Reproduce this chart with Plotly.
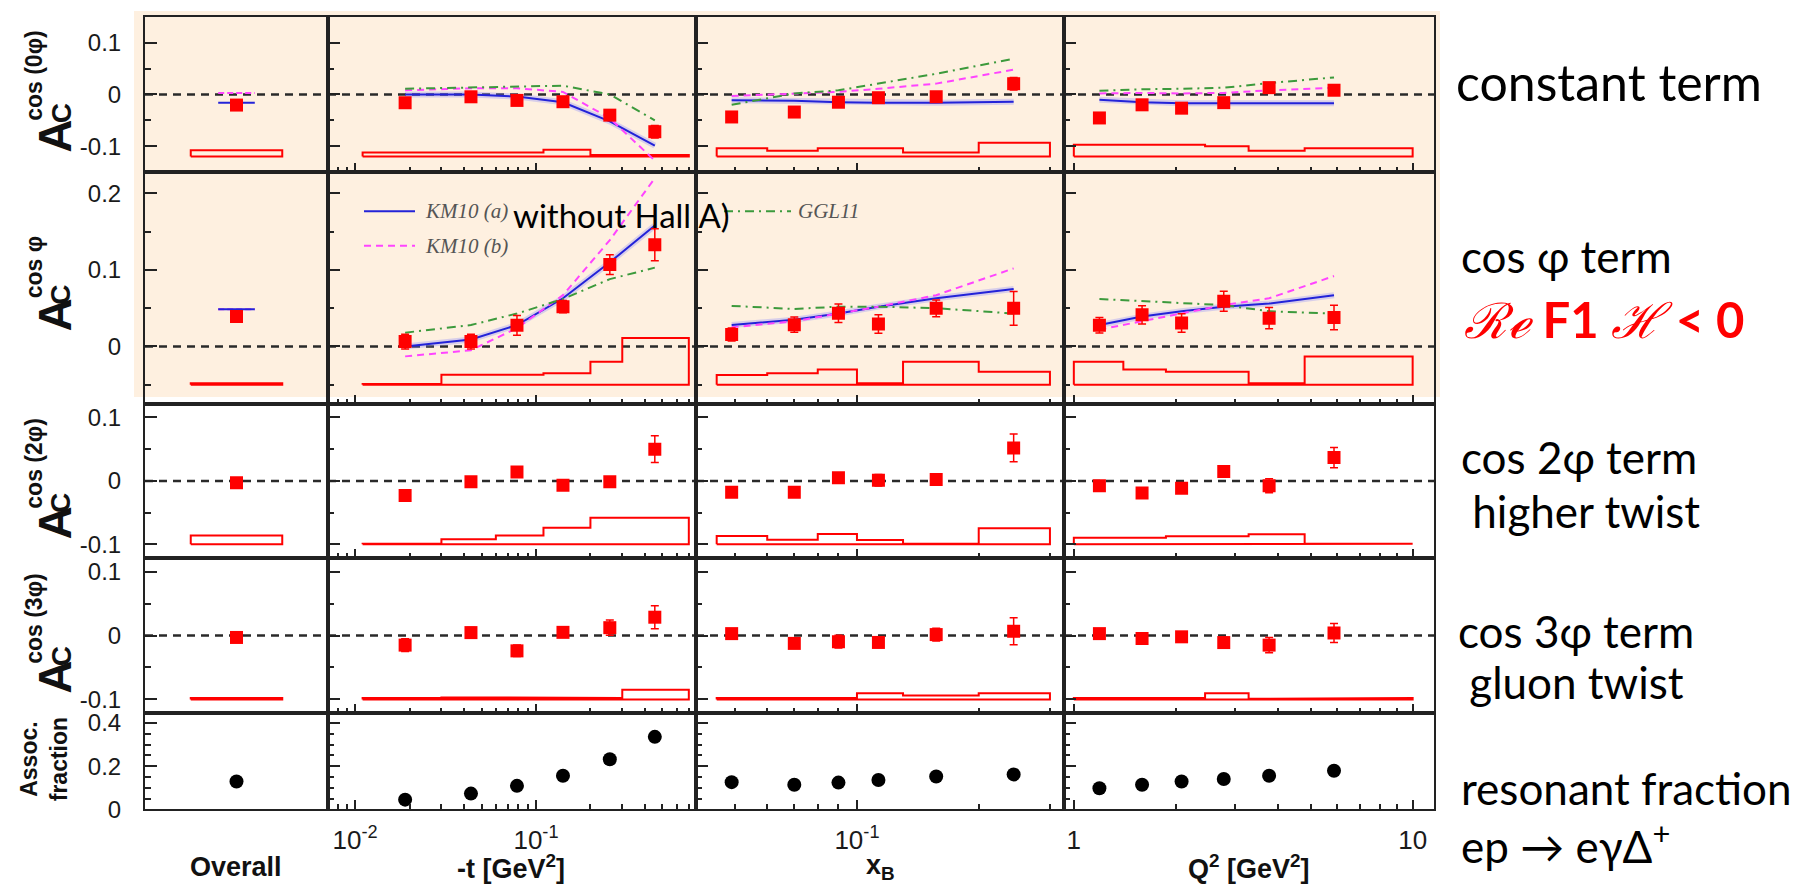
import math
import plotly.graph_objects as go

# ---------------- data ----------------
t_bins = [0.0189, 0.0437, 0.0785, 0.141, 0.256, 0.454]
xb_bins = [0.049, 0.070, 0.090, 0.113, 0.157, 0.244]
q2_bins = [1.19, 1.59, 2.08, 2.77, 3.77, 5.86]

t_edges = [0.011, 0.03, 0.06, 0.11, 0.2, 0.3, 0.7]
xb_edges = [0.045, 0.06, 0.08, 0.1, 0.13, 0.2, 0.3]
q2_edges = [1.0, 1.4, 1.87, 2.44, 3.28, 4.8, 10.0]

# cos(0phi) amplitude
c0_overall = [-0.0205]; c0_overall_err = [0.004]; c0_overall_sys = [0.012]
c0_overall_km10a = -0.016; c0_overall_km10b = 0.003
c0_t = [-0.016, -0.0045, -0.0115, -0.014, -0.040, -0.072]
c0_t_err = [0.007, 0.006, 0.007, 0.007, 0.008, 0.012]
c0_t_sys = [0.008, 0.008, 0.008, 0.013, 0.003, 0.003]
c0_t_km10a = [0.0, 0.0, -0.004, -0.015, -0.052, -0.099]
c0_t_km10b = [0.008, 0.012, 0.012, 0.005, -0.046, -0.128]
c0_t_ggl11 = [0.011, 0.014, 0.016, 0.017, 0.0, -0.05]
c0_xb = [-0.0435, -0.034, -0.015, -0.0063, -0.0044, 0.0208]
c0_xb_err = [0.007, 0.007, 0.007, 0.007, 0.007, 0.012]
c0_xb_sys = [0.016, 0.011, 0.016, 0.016, 0.0076, 0.0265]
c0_xb_km10a = [-0.011, -0.012, -0.015, -0.016, -0.016, -0.014]
c0_xb_km10b = [-0.003, 0.002, 0.005, 0.011, 0.021, 0.048]
c0_xb_ggl11 = [-0.02, 0.002, 0.008, 0.021, 0.04, 0.069]
c0_q2 = [-0.0454, -0.020, -0.0265, -0.0158, 0.0132, 0.0082]
c0_q2_err = [0.007, 0.007, 0.007, 0.007, 0.007, 0.009]
c0_q2_sys = [0.023, 0.023, 0.023, 0.020, 0.011, 0.016]
c0_q2_km10a = [-0.010, -0.015, -0.017, -0.017, -0.017, -0.017]
c0_q2_km10b = [0.002, 0.003, 0.002, 0.003, 0.008, 0.013]
c0_q2_ggl11 = [0.007, 0.010, 0.011, 0.013, 0.022, 0.033]

# cos(phi) amplitude
c1_overall = [0.039]; c1_overall_err = [0.004]; c1_overall_sys = [0.002]
c1_overall_km10a = 0.0485; c1_overall_km10b = 0.0485
c1_t = [0.0064, 0.0064, 0.0276, 0.052, 0.107, 0.133]
c1_t_err = [0.0096, 0.0096, 0.013, 0.008, 0.013, 0.021]
c1_t_sys = [0.001, 0.013, 0.013, 0.015, 0.030, 0.061]
c1_t_km10a = [0.0, 0.009, 0.028, 0.063, 0.110, 0.158]
c1_t_km10b = [-0.013, -0.005, 0.024, 0.067, 0.139, 0.220]
c1_t_ggl11 = [0.018, 0.028, 0.043, 0.062, 0.088, 0.103]
c1_xb = [0.0157, 0.0285, 0.0434, 0.0294, 0.0498, 0.0498]
c1_xb_err = [0.0085, 0.010, 0.012, 0.012, 0.011, 0.022]
c1_xb_sys = [0.0128, 0.015, 0.020, 0.002, 0.030, 0.017]
c1_xb_km10a = [0.028, 0.035, 0.043, 0.052, 0.063, 0.075]
c1_xb_km10b = [0.025, 0.033, 0.043, 0.052, 0.067, 0.102]
c1_xb_ggl11 = [0.053, 0.049, 0.052, 0.052, 0.050, 0.043]
c1_q2 = [0.0277, 0.0413, 0.0306, 0.0591, 0.037, 0.0379]
c1_q2_err = [0.010, 0.012, 0.012, 0.013, 0.014, 0.016]
c1_q2_sys = [0.030, 0.020, 0.017, 0.017, 0.002, 0.037]
c1_q2_km10a = [0.028, 0.039, 0.046, 0.052, 0.056, 0.067]
c1_q2_km10b = [0.022, 0.033, 0.043, 0.054, 0.063, 0.092]
c1_q2_ggl11 = [0.062, 0.059, 0.056, 0.054, 0.046, 0.043]

# cos(2phi) amplitude
c2_overall = [-0.003]; c2_overall_err = [0.004]; c2_overall_sys = [0.014]
c2_t = [-0.023, -0.0015, 0.014, -0.0067, -0.0015, 0.050]
c2_t_err = [0.008, 0.008, 0.008, 0.006, 0.008, 0.021]
c2_t_sys = [0.001, 0.008, 0.014, 0.026, 0.042, 0.042]
c2_xb = [-0.018, -0.018, 0.005, 0.001, 0.002, 0.052]
c2_xb_err = [0.007, 0.006, 0.008, 0.009, 0.009, 0.022]
c2_xb_sys = [0.0133, 0.0071, 0.0163, 0.007, 0.001, 0.0255]
c2_q2 = [-0.0077, -0.019, -0.0117, 0.0148, -0.0077, 0.0367]
c2_q2_err = [0.008, 0.008, 0.008, 0.008, 0.011, 0.016]
c2_q2_sys = [0.0102, 0.0102, 0.0128, 0.0128, 0.016, 0.001]

# cos(3phi) amplitude
c3_overall = [-0.003]; c3_overall_err = [0.004]; c3_overall_sys = [0.002]
c3_t = [-0.015, 0.0046, -0.024, 0.005, 0.0123, 0.0287]
c3_t_err = [0.010, 0.008, 0.009, 0.007, 0.012, 0.018]
c3_t_sys = [0.002, 0.003, 0.003, 0.002, 0.002, 0.015]
c3_xb = [0.003, -0.0123, -0.0097, -0.0108, 0.0015, 0.0067]
c3_xb_err = [0.007, 0.007, 0.010, 0.008, 0.010, 0.021]
c3_xb_sys = [0.002, 0.002, 0.002, 0.0097, 0.006, 0.0097]
c3_q2 = [0.003, -0.0046, -0.002, -0.011, -0.015, 0.004]
c3_q2_err = [0.007, 0.008, 0.008, 0.008, 0.012, 0.015]
c3_q2_sys = [0.002, 0.002, 0.002, 0.0097, 0.001, 0.002]

# associated (resonant) fraction
fr_overall = [0.129]
fr_t = [0.045, 0.073, 0.109, 0.156, 0.232, 0.336]
fr_xb = [0.126, 0.114, 0.124, 0.136, 0.152, 0.162]
fr_q2 = [0.098, 0.114, 0.129, 0.141, 0.156, 0.179]

sys_baseline = [-0.12, -0.05, -0.10, -0.10]

# ---------------- layout geometry (pixels) ----------------
W, H = 1805, 888
COLS = [137, 320, 688, 1056, 1426]
ROWS = [6, 164, 400, 557, 715, 813]

RED = "#FF0000"
BLUE = "#2323D8"
MAG = "#FF44FF"
GREEN = "#3C9A3C"
FRAME = "#222222"
AXFONT = "Liberation Sans, Arial, sans-serif"
TXTFONT = "Lato, Open Sans, sans-serif"


def px(x):
    return x / W


def py(y):
    return 1 - y / H


fig = go.Figure()

xbins = [None, t_bins, xb_bins, q2_bins]
xedges = [None, t_edges, xb_edges, q2_edges]
xranges = [[0, 1], [math.log10(0.00708), math.log10(0.767)],
           [math.log10(0.04), math.log10(0.325)], [-0.029, 1.063]]

rows_data = [
    dict(overall=(c0_overall, c0_overall_err, c0_overall_sys, c0_overall_km10a, c0_overall_km10b),
         cols=[(c0_t, c0_t_err, c0_t_sys, c0_t_km10a, c0_t_km10b, c0_t_ggl11),
               (c0_xb, c0_xb_err, c0_xb_sys, c0_xb_km10a, c0_xb_km10b, c0_xb_ggl11),
               (c0_q2, c0_q2_err, c0_q2_sys, c0_q2_km10a, c0_q2_km10b, c0_q2_ggl11)]),
    dict(overall=(c1_overall, c1_overall_err, c1_overall_sys, c1_overall_km10a, c1_overall_km10b),
         cols=[(c1_t, c1_t_err, c1_t_sys, c1_t_km10a, c1_t_km10b, c1_t_ggl11),
               (c1_xb, c1_xb_err, c1_xb_sys, c1_xb_km10a, c1_xb_km10b, c1_xb_ggl11),
               (c1_q2, c1_q2_err, c1_q2_sys, c1_q2_km10a, c1_q2_km10b, c1_q2_ggl11)]),
    dict(overall=(c2_overall, c2_overall_err, c2_overall_sys, None, None),
         cols=[(c2_t, c2_t_err, c2_t_sys, None, None, None),
               (c2_xb, c2_xb_err, c2_xb_sys, None, None, None),
               (c2_q2, c2_q2_err, c2_q2_sys, None, None, None)]),
    dict(overall=(c3_overall, c3_overall_err, c3_overall_sys, None, None),
         cols=[(c3_t, c3_t_err, c3_t_sys, None, None, None),
               (c3_xb, c3_xb_err, c3_xb_sys, None, None, None),
               (c3_q2, c3_q2_err, c3_q2_sys, None, None, None)]),
]
frac_data = [fr_overall, fr_t, fr_xb, fr_q2]

yranges = [[-0.15, 0.15], [-0.075, 0.228], [-0.1215, 0.1215], [-0.1215, 0.1215], [0, 0.446]]
ymajor = [[-0.1, 0, 0.1], [0, 0.1, 0.2], [-0.1, 0, 0.1], [-0.1, 0, 0.1], [0, 0.2, 0.4]]
ymajor_txt = [["-0.1", "0", "0.1"], ["0", "0.1", "0.2"], ["-0.1", "0", "0.1"],
              ["-0.1", "0", "0.1"], ["0", "0.2", "0.4"]]
yminor = [[-0.05, 0.05], [-0.05, 0.05, 0.15], [-0.05, 0.05], [-0.05, 0.05],
          [0.05, 0.1, 0.15, 0.25, 0.3, 0.35]]

xmajor = [None, [0.01, 0.1], [0.1], [1, 10]]
xmajor_txt = [None, ["10<sup>-2</sup>", "10<sup>-1</sup>"], ["10<sup>-1</sup>"], ["1", "10"]]
xminor = [None,
          [0.008, 0.009, 0.02, 0.03, 0.04, 0.05, 0.06, 0.07, 0.08, 0.09, 0.2, 0.3, 0.4, 0.5, 0.6, 0.7],
          [0.05, 0.06, 0.07, 0.08, 0.09, 0.2, 0.3],
          [2, 3, 4, 5, 6, 7, 8, 9]]


def sys_outline(edges, heights, base):
    xs = [edges[0]]
    ys = [base]
    for i, h in enumerate(heights):
        xs += [edges[i], edges[i + 1]]
        ys += [base + h, base + h]
    xs += [edges[-1], edges[0]]
    ys += [base, base]
    return xs, ys


def add_models(xv, a, b, g, xa, ya):
    if a is not None:
        fig.add_trace(go.Scatter(x=xv, y=a, mode="lines", xaxis=xa, yaxis=ya,
                                 line=dict(color="rgba(130,130,255,0.3)", width=6),
                                 showlegend=False, hoverinfo="skip"))
        fig.add_trace(go.Scatter(x=xv, y=a, mode="lines", xaxis=xa, yaxis=ya,
                                 line=dict(color=BLUE, width=2), showlegend=False))
    if b is not None:
        fig.add_trace(go.Scatter(x=xv, y=b, mode="lines", xaxis=xa, yaxis=ya,
                                 line=dict(color=MAG, width=2, dash="7px,5px"), showlegend=False))
    if g is not None:
        fig.add_trace(go.Scatter(x=xv, y=g, mode="lines", xaxis=xa, yaxis=ya,
                                 line=dict(color=GREEN, width=2, dash="9px,5px,2px,5px"),
                                 showlegend=False))


shapes = []
# peach background behind the first two rows
shapes.append(dict(type="rect", xref="paper", yref="paper", x0=px(126), x1=px(1432),
                   y0=py(393), y1=py(0), fillcolor="#FEF0E0", line=dict(width=0), layer="below"))

layout_axes = {}
for r in range(5):
    for c in range(4):
        n = r * 4 + c + 1
        xa = "x" if n == 1 else f"x{n}"
        ya = "y" if n == 1 else f"y{n}"
        xkey = "xaxis" if n == 1 else f"xaxis{n}"
        ykey = "yaxis" if n == 1 else f"yaxis{n}"

        xd = dict(domain=[px(COLS[c]), px(COLS[c + 1])], anchor=ya, showgrid=False,
                  zeroline=False, showline=True, mirror=True, linecolor=FRAME, linewidth=2,
                  range=xranges[c], fixedrange=True)
        if c == 0:
            xd.update(type="linear", showticklabels=False, ticks="")
        else:
            xd.update(type="log", tickmode="array", tickvals=xmajor[c], ticktext=xmajor_txt[c],
                      ticks="inside", ticklen=9, tickwidth=2, tickcolor=FRAME,
                      minor=dict(tickmode="array", tickvals=xminor[c], ticks="inside",
                                 ticklen=5, tickwidth=2, tickcolor=FRAME),
                      showticklabels=(r == 4),
                      tickfont=dict(family=AXFONT, size=26, color="#1a1a1a"),
                      ticklabelstandoff=6)
        layout_axes[xkey] = xd

        yd = dict(domain=[py(ROWS[r + 1]), py(ROWS[r])], anchor=xa, showgrid=False,
                  zeroline=False, showline=True, mirror=True, linecolor=FRAME, linewidth=2,
                  range=yranges[r], tickmode="array", tickvals=ymajor[r], ticktext=ymajor_txt[r],
                  ticks="inside", ticklen=12, tickwidth=2, tickcolor=FRAME,
                  minor=dict(tickmode="array", tickvals=yminor[r], ticks="inside",
                             ticklen=6, tickwidth=2, tickcolor=FRAME),
                  showticklabels=(c == 0),
                  tickfont=dict(family=AXFONT, size=24, color="#1a1a1a"),
                  ticklabelstandoff=17, fixedrange=True)
        layout_axes[ykey] = yd

        # dashed zero line
        if r < 4:
            shapes.append(dict(type="line", xref=f"{xa} domain", yref=ya, x0=0, x1=1, y0=0, y1=0,
                               line=dict(color="#2a2a2a", width=2.5, dash="8px,6px"), layer="below"))

        if r < 4:
            rd = rows_data[r]
            if c == 0:
                val, err, sysv, ka, kb = rd["overall"]
                sx, sy = sys_outline([0.25, 0.75], sysv, sys_baseline[r])
                fig.add_trace(go.Scatter(x=sx, y=sy, mode="lines", xaxis=xa, yaxis=ya,
                                         line=dict(color=RED, width=2), showlegend=False))
                if kb is not None:
                    fig.add_trace(go.Scatter(x=[0.4, 0.6], y=[kb, kb], mode="lines", xaxis=xa, yaxis=ya,
                                             line=dict(color=MAG, width=2, dash="6px,3px"),
                                             showlegend=False))
                if ka is not None:
                    fig.add_trace(go.Scatter(x=[0.4, 0.6], y=[ka, ka], mode="lines", xaxis=xa, yaxis=ya,
                                             line=dict(color=BLUE, width=2), showlegend=False))
                fig.add_trace(go.Scatter(x=[0.5], y=val, mode="markers", xaxis=xa, yaxis=ya,
                                         marker=dict(symbol="square", size=13, color=RED),
                                         error_y=dict(type="data", array=err, color=RED,
                                                      thickness=1.5, width=4),
                                         showlegend=False))
            else:
                val, err, sysv, ka, kb, kg = rd["cols"][c - 1]
                sx, sy = sys_outline(xedges[c], sysv, sys_baseline[r])
                fig.add_trace(go.Scatter(x=sx, y=sy, mode="lines", xaxis=xa, yaxis=ya,
                                         line=dict(color=RED, width=2), showlegend=False))
                add_models(xbins[c], ka, kb, kg, xa, ya)
                fig.add_trace(go.Scatter(x=xbins[c], y=val, mode="markers", xaxis=xa, yaxis=ya,
                                         marker=dict(symbol="square", size=13, color=RED),
                                         error_y=dict(type="data", array=err, color=RED,
                                                      thickness=1.5, width=4),
                                         showlegend=False))
        else:
            xv = [0.5] if c == 0 else xbins[c]
            fig.add_trace(go.Scatter(x=xv, y=frac_data[c], mode="markers", xaxis=xa, yaxis=ya,
                                     marker=dict(symbol="circle", size=14, color="black"),
                                     showlegend=False))

annotations = []

# y-axis titles (A_C^{cos ...})
ytitle_sup = ["cos (0φ)", "cos φ", "cos (2φ)", "cos (3φ)"]
A_y = [128, 310, 522, 679]
C_y = [104, 289, 501, 657]
S_y = [66, 261, 461, 619]
for i in range(4):
    annotations.append(dict(text="<b>A</b>", x=px(47), y=py(A_y[i]), xref="paper", yref="paper",
                            showarrow=False, textangle=-90, xanchor="center", yanchor="middle",
                            font=dict(family=AXFONT, size=46, color="#111")))
    annotations.append(dict(text="<b>C</b>", x=px(53), y=py(C_y[i]), xref="paper", yref="paper",
                            showarrow=False, textangle=-90, xanchor="center", yanchor="middle",
                            font=dict(family=AXFONT, size=28, color="#111")))
    annotations.append(dict(text="<b>" + ytitle_sup[i] + "</b>", x=px(26), y=py(S_y[i]),
                            xref="paper", yref="paper", showarrow=False, textangle=-90,
                            xanchor="center", yanchor="middle",
                            font=dict(family=AXFONT, size=23, color="#111")))
annotations.append(dict(text="<b>Assoc.</b><br><b>fraction</b>", x=px(36), y=py(762),
                        xref="paper", yref="paper", showarrow=False, textangle=-90,
                        xanchor="center", yanchor="middle",
                        font=dict(family=AXFONT, size=23, color="#111")))

# x-axis titles
xt = [("<b>Overall</b>", 228), ("<b>-t [GeV<sup>2</sup>]</b>", 503),
      ("<b>x<sub>B</sub></b>", 872), ("<b>Q<sup>2</sup> [GeV<sup>2</sup>]</b>", 1241)]
for txt, xx in xt:
    annotations.append(dict(text=txt, x=px(xx), y=py(872), xref="paper", yref="paper",
                            showarrow=False, xanchor="center", yanchor="middle",
                            font=dict(family=AXFONT, size=27, color="#111")))

# model legend inside the cos(phi) vs -t panel
shapes.append(dict(type="line", xref="paper", yref="paper", x0=px(356), x1=px(407),
                   y0=py(204), y1=py(204), line=dict(color=BLUE, width=2)))
shapes.append(dict(type="line", xref="paper", yref="paper", x0=px(356), x1=px(407),
                   y0=py(239), y1=py(239), line=dict(color=MAG, width=2, dash="7px,5px")))
shapes.append(dict(type="line", xref="paper", yref="paper", x0=px(716), x1=px(783),
                   y0=py(204), y1=py(204), line=dict(color=GREEN, width=2, dash="9px,5px,2px,5px")))
leg = [("KM10 (a)", 415, 204), ("KM10 (b)", 415, 239), ("GGL11", 788, 204)]
for txt, xx, yy in leg:
    annotations.append(dict(text="<i>" + txt + "</i>", x=px(xx), y=py(yy), xref="paper",
                            yref="paper", showarrow=False, xanchor="left", yanchor="middle",
                            font=dict(family="Liberation Serif, Times New Roman, serif",
                                      size=21, color="#555")))
annotations.append(dict(text="without Hall A)", x=px(503), y=py(208), xref="paper", yref="paper",
                        showarrow=False, xanchor="left", yanchor="middle",
                        font=dict(family=TXTFONT, size=33, color="black")))

# right-hand commentary
right_txt = [("constant term", 1446, 72, 50),
             ("cos φ term", 1451, 249, 44),
             ("cos 2φ term", 1451, 454, 44),
             (" higher twist", 1451, 509, 44),
             ("cos 3φ term", 1448, 631, 44),
             (" gluon twist", 1448, 683, 44),
             ("resonant fraction", 1451, 791, 44),
             ("ep → eγΔ<sup>+</sup>", 1451, 848, 44)]
for txt, xx, yy, fs in right_txt:
    annotations.append(dict(text=txt, x=px(xx), y=py(yy), xref="paper", yref="paper",
                            showarrow=False, xanchor="left", yanchor="middle",
                            font=dict(family=TXTFONT, size=fs, color="black")))
annotations.append(dict(
    text="<i>ℛℯ</i> <b>F1</b> <i>ℋ</i> <b>&lt; 0</b>",
    x=px(1454), y=py(314), xref="paper", yref="paper", showarrow=False,
    xanchor="left", yanchor="middle",
    font=dict(family="Lato, DejaVu Serif, serif", size=49, color="#FF0000")))

fig.update_layout(**layout_axes)
fig.update_layout(
    width=W, height=H, autosize=False,
    margin=dict(l=0, r=0, t=0, b=0),
    paper_bgcolor="white", plot_bgcolor="rgba(0,0,0,0)",
    shapes=shapes, annotations=annotations, showlegend=False,
)

fig.write_html("out.html")
